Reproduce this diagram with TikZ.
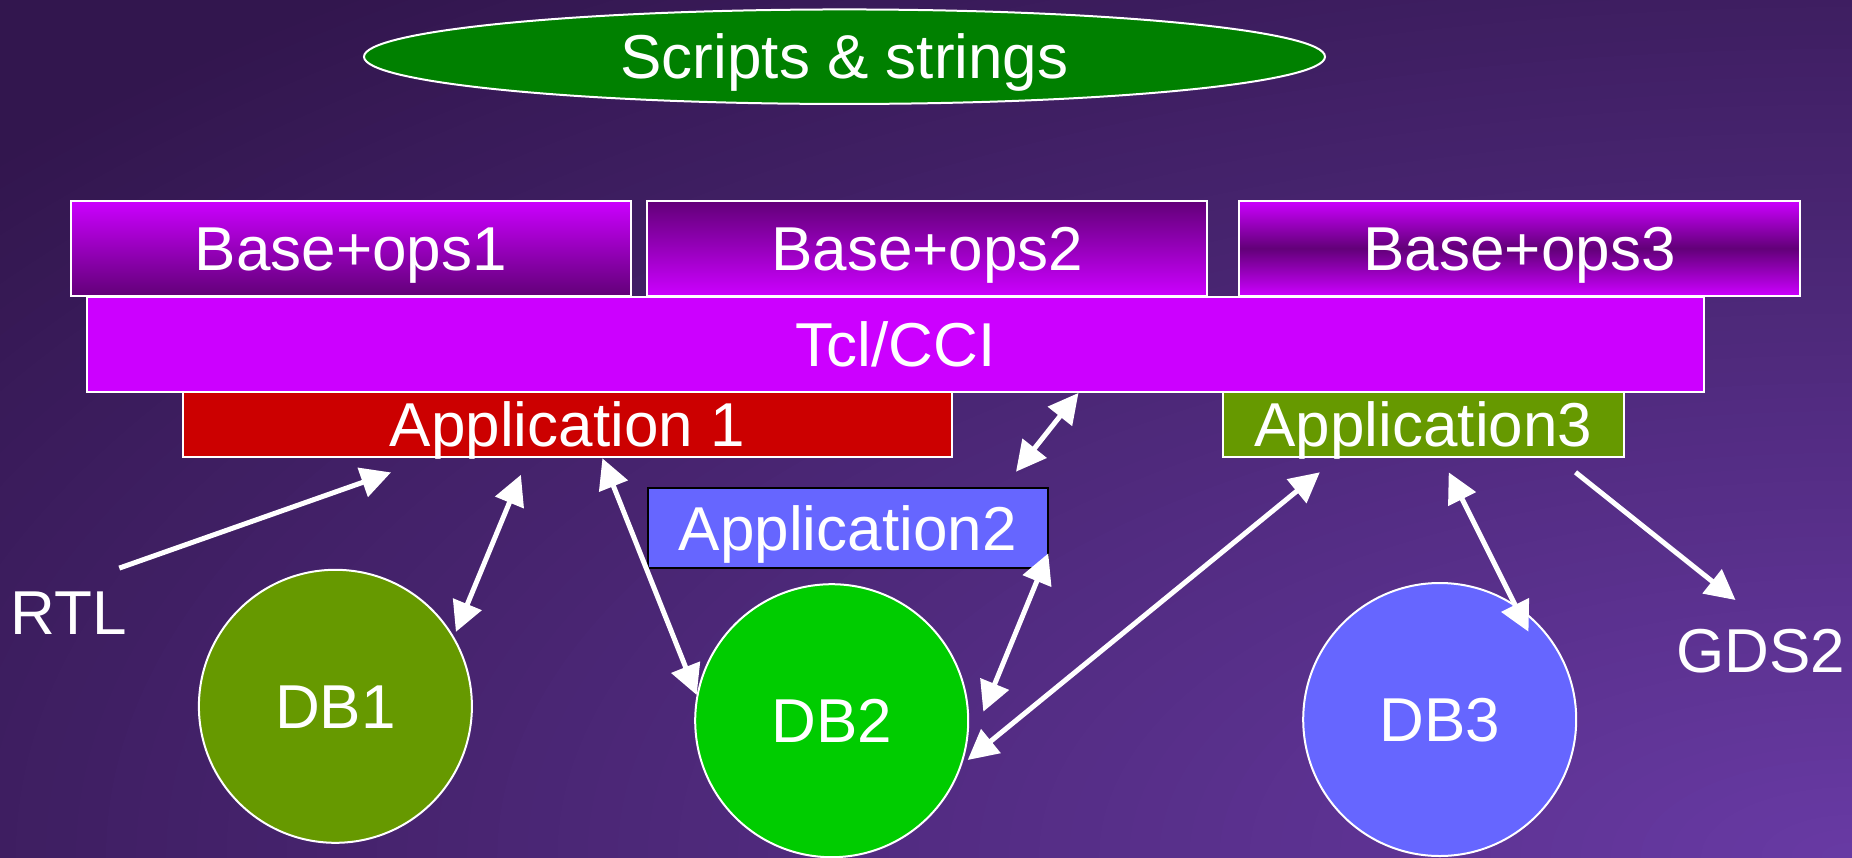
\documentclass[tikz,border=0pt]{standalone}
\usepackage{fontspec}
\setmainfont{Liberation Sans}
\usetikzlibrary{arrows.meta,shapes.geometric}
\definecolor{bgdark}{RGB}{50,22,78}
\definecolor{bglight}{RGB}{104,58,164}
\definecolor{titlegreen}{RGB}{0,128,0}
\definecolor{magentab}{RGB}{204,0,255}
\definecolor{darkmag}{RGB}{98,0,120}
\definecolor{appred}{RGB}{204,0,0}
\definecolor{olivegreen}{RGB}{102,153,0}
\definecolor{periwinkle}{RGB}{102,102,255}
\definecolor{brightgreen}{RGB}{0,204,0}
\begin{document}
\begin{tikzpicture}[x=1pt,y=-1pt,
  every node/.style={text=white, font=\fontsize{62}{70}\selectfont, inner sep=0pt, outer sep=0pt, text height=44.4pt, text depth=0pt},
  boxnode/.style={rectangle, draw=white, line width=2pt},
  dbnode/.style={circle, draw=white, line width=2pt, minimum size=273pt},
  onearrow/.style={draw=white, line width=5pt, -{Triangle[length=30pt,width=30pt]}},
  twoarrow/.style={draw=white, line width=5pt, {Triangle[length=30pt,width=30pt]}-{Triangle[length=30pt,width=30pt]}}
]
% background
\begin{scope}
\clip (0,0) rectangle (1852,857);
\fill[bgdark] (0,0) rectangle (1852,857);
\foreach \i in {0,...,80}{
  \pgfmathsetmacro\f{\i/80}
  \pgfmathsetmacro\rx{1852*1.3*(1-\f)+0.5}
  \pgfmathsetmacro\ry{857*1.3*(1-\f)+0.5}
  \pgfmathsetmacro\p{100*\f}
  \fill[bglight!\p!bgdark] (1852,857) ellipse [x radius=\rx pt, y radius=\ry pt];
}
\end{scope}
\useasboundingbox (0,0) rectangle (1852,857);

% title
\node[ellipse, draw=white, line width=2pt, fill=titlegreen, minimum width=961pt, minimum height=94.5pt] (title) at (844.5,56.7) {Scripts \& strings};

% base+ops
\node[boxnode, minimum width=559.8pt, minimum height=95pt, top color=magentab, bottom color=darkmag] (ops1) at (350.8,248.3) {Base+ops1};
\node[boxnode, minimum width=559.8pt, minimum height=95pt, top color=darkmag, bottom color=magentab] (ops2) at (927.2,248.3) {Base+ops2};
\node[boxnode, minimum width=560.5pt, minimum height=95pt, top color=magentab, bottom color=magentab, middle color=darkmag] (ops3) at (1519.6,248.3) {Base+ops3};

% Tcl/CCI
\node[boxnode, fill=magentab, minimum width=1616.5pt, minimum height=95.5pt] (tcl) at (895.5,344.5) {Tcl/CCI};

% applications
\node[boxnode, fill=appred, minimum width=768.7pt, minimum height=64.4pt] (app1) at (567.4,424.5) {Application 1};
\node[boxnode, fill=olivegreen, minimum width=401.2pt, minimum height=64.4pt] (app3) at (1423.5,424.5) {Application3};
\node[boxnode, draw=black, fill=periwinkle, minimum width=400pt, minimum height=80pt] (app2) at (847.7,528.3) {Application2};

% databases
\node[dbnode, fill=olivegreen] (db1) at (335.4,706.3) {DB1};
\node[dbnode, fill=brightgreen] (db2) at (831.7,720.7) {DB2};
\node[dbnode, fill=periwinkle] (db3) at (1439.7,719.5) {DB3};

% external labels
\node (rtl) at (68.5,611.8) {RTL};
\node (gds) at (1761,650) {GDS2};

% connectors
\draw[onearrow] ([shift={(50.8,-43.7)}]rtl.center) -- ([shift={(-176.4,47.9)}]app1.center);
\draw[twoarrow] ([shift={(120.5,-74.4)}]db1.center) -- ([shift={(-46.5,50.3)}]app1.center);
\draw[twoarrow] ([shift={(35,33.8)}]app1.center) -- ([shift={(-135,-25.7)}]db2.center);
\draw[twoarrow] ([shift={(183,48.4)}]tcl.center) -- ([shift={(168.3,-56.6)}]app2.center);
\draw[twoarrow] ([shift={(200.6,25)}]app2.center) -- ([shift={(151.6,-9)}]db2.center);
\draw[twoarrow] ([shift={(136,39.3)}]db2.center) -- ([shift={(-103.7,47.8)}]app3.center);
\draw[twoarrow] ([shift={(25.2,47.8)}]app3.center) -- ([shift={(88.8,-87.8)}]db3.center);
\draw[onearrow] ([shift={(152,47.8)}]app3.center) -- ([shift={(-25.5,-50)}]gds.center);
\end{tikzpicture}
\end{document}
